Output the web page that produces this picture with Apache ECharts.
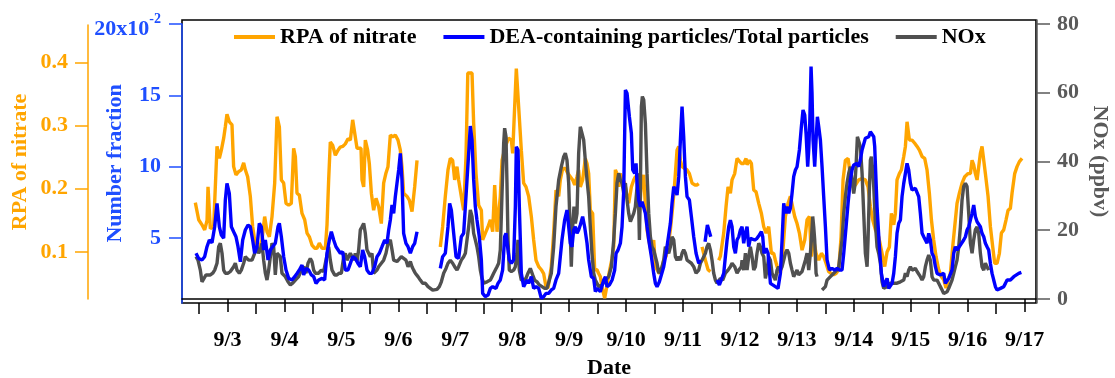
<!DOCTYPE html>
<html>
<head>
<meta charset="utf-8">
<script src="https://cdn.jsdelivr.net/npm/echarts@6/dist/echarts.min.js"></script>
<style>
  html, body { margin: 0; padding: 0; background: #fff; }
  #chart { width: 1115px; height: 378px; }
</style>
</head>
<body>
<div id="chart"></div>
<script>
// Time is expressed as day-of-September (3 = 9/3 00:00).
const dayTicks = [3, 4, 5, 6, 7, 8, 9, 10, 11, 12, 13, 14, 15, 16, 17];
const dayLabels = ['9/3', '9/4', '9/5', '9/6', '9/7', '9/8', '9/9', '9/10', '9/11', '9/12', '9/13', '9/14', '9/15', '9/16', '9/17'];
const halfDayTicks = [2.5, 3.5, 4.5, 5.5, 6.5, 7.5, 8.5, 9.5, 10.5, 11.5, 12.5, 13.5, 14.5, 15.5, 16.5];
const rpaTicks = [0.1, 0.2, 0.3, 0.4];
const fractionTicks = [5, 10, 15, 20];
const noxTicks = [0, 20, 40, 60, 80];

// RPA of nitrate: [day, RPA]
const rpaNitrate = [
  [2.434,0.178],[2.493,0.151],[2.551,0.143],[2.598,0.135],[2.640,0.150],[2.657,0.203],[2.698,0.137],[2.756,0.140],
  [2.815,0.267],[2.856,0.248],[2.891,0.261],[2.932,0.280],[2.961,0.298],[2.990,0.318],[3.031,0.306],[3.078,0.301],
  [3.107,0.235],[3.148,0.222],[3.195,0.227],[3.242,0.230],[3.283,0.241],[3.312,0.230],[3.353,0.219],[3.400,0.188],
  [3.441,0.140],[3.476,0.119],[3.547,0.103],[3.605,0.119],[3.652,0.156],[3.693,0.132],[3.734,0.124],[3.781,0.156],
  [3.828,0.209],[3.869,0.314],[3.910,0.298],[3.945,0.214],[3.986,0.209],[4.027,0.177],[4.074,0.174],[4.120,0.177],
  [4.161,0.264],[4.191,0.251],[4.220,0.193],[4.261,0.190],[4.308,0.161],[4.355,0.151],[4.396,0.130],[4.437,0.124],
  [4.483,0.111],[4.530,0.106],[4.571,0.106],[4.612,0.114],[4.659,0.106],[4.718,0.106],[4.747,0.143],[4.776,0.214],
  [4.805,0.274],[4.846,0.269],[4.893,0.253],[4.940,0.261],[4.981,0.266],[5.022,0.267],[5.069,0.271],[5.116,0.279],
  [5.157,0.277],[5.198,0.309],[5.233,0.310],[5.274,0.264],[5.303,0.264],[5.344,0.264],[5.362,0.214],[5.391,0.203],
  [5.420,0.277],[5.461,0.261],[5.490,0.240],[5.526,0.193],[5.566,0.166],[5.608,0.185],[5.654,0.172],[5.701,0.145],
  [5.742,0.209],[5.783,0.225],[5.818,0.235],[5.859,0.285],[5.900,0.282],[5.947,0.285],[5.994,0.277],[6.035,0.261],
  [6.064,0.235],[6.093,0.193],[6.152,0.188],[6.193,0.182],[6.240,0.164],[6.287,0.203],[6.328,0.245],
  [6.53,null],
  [6.737,0.108],[6.778,0.140],[6.825,0.188],[6.872,0.230],[6.913,0.248],[6.954,0.245],[6.989,0.214],[7.030,0.235],
  [7.059,0.214],[7.106,0.188],[7.147,0.166],[7.188,0.251],[7.220,0.383],[7.294,0.383],[7.323,0.303],[7.364,0.224],
  [7.411,0.174],[7.458,0.166],[7.481,0.119],[7.528,0.130],[7.575,0.140],[7.616,0.151],[7.657,0.132],[7.692,0.206],
  [7.733,0.132],[7.791,0.188],[7.821,0.245],[7.879,0.267],[7.938,0.280],[7.985,0.277],[8.008,0.256],[8.043,0.253],
  [8.072,0.390],[8.113,0.330],[8.160,0.261],[8.201,0.209],[8.242,0.203],[8.289,0.188],[8.336,0.156],[8.377,0.119],
  [8.418,0.087],[8.465,0.077],[8.511,0.072],[8.552,0.066],[8.593,0.045],[8.629,0.043],[8.652,0.045],[8.687,0.077],
  [8.728,0.130],[8.769,0.198],[8.816,0.188],[8.845,0.214],[8.886,0.232],[8.933,0.232],[8.980,0.224],[9.021,0.219],
  [9.062,0.214],[9.097,0.206],[9.138,0.219],[9.167,0.230],[9.196,0.203],[9.237,0.214],[9.284,0.248],[9.314,0.240],
  [9.343,0.224],[9.372,0.166],[9.413,0.161],[9.448,0.072],[9.489,0.072],[9.518,0.066],[9.548,0.061],[9.577,0.045],
  [9.624,0.027],[9.666,0.048],[9.707,0.069],[9.754,0.090],[9.783,0.109],[9.812,0.230],[9.841,0.224],[9.871,0.203],
  [9.900,0.224],[9.929,0.225],[9.976,0.209],[10.017,0.188],[10.046,0.177],[10.093,0.203],[10.134,0.214],[10.163,0.219],
  [10.210,0.219],[10.234,0.161],[10.269,0.209],[10.310,0.222],[10.339,0.172],[10.368,0.135],[10.398,0.119],[10.427,0.119],
  [10.456,0.093],[10.485,0.119],[10.515,0.077],[10.544,0.072],[10.585,0.066],[10.620,0.072],[10.661,0.087],[10.702,0.093],
  [10.737,0.109],[10.778,0.135],[10.819,0.172],[10.854,0.209],[10.895,0.261],[10.925,0.267],[10.954,0.245],[10.983,0.235],
  [11.030,0.232],[11.071,0.230],[11.112,0.224],[11.159,0.209],[11.206,0.206],[11.247,0.206],[11.276,0.208],
  [11.30,null],
  [11.334,0.108],[11.393,0.087],[11.440,0.072],[11.481,0.069],
  [11.55,null],
  [11.627,0.087],[11.656,0.093],[11.715,0.130],[11.756,0.172],[11.791,0.203],[11.832,0.193],[11.861,0.214],[11.908,0.224],
  [11.949,0.248],[11.979,0.251],[12.025,0.240],[12.066,0.240],[12.107,0.248],[12.125,0.238],[12.166,0.245],[12.201,0.240],
  [12.242,0.198],[12.283,0.195],[12.330,0.177],[12.377,0.161],[12.418,0.140],[12.459,0.130],[12.505,0.140],[12.552,0.098],
  [12.593,0.098],[12.622,0.087],[12.669,0.072],[12.710,0.066],[12.751,0.098],[12.798,0.156],[12.845,0.177],[12.886,0.188],
  [12.915,0.188],[12.962,0.156],[13.003,0.145],[13.044,0.130],[13.091,0.103],[13.138,0.119],[13.179,0.151],[13.220,0.156],
  [13.255,0.093],[13.296,0.119],[13.337,0.098],[13.384,0.087],[13.431,0.098],[13.471,0.093],[13.513,0.082],[13.559,0.069],
  [13.606,0.066],[13.647,0.064],[13.688,0.066],[13.735,0.072],[13.776,0.124],[13.811,0.214],[13.852,0.245],[13.899,0.248],
  [13.969,0.203],[14.028,0.206],[14.086,0.214],[14.145,0.216],[14.203,0.214],[14.250,0.203],[14.291,0.172],[14.332,0.151],
  [14.379,0.135],[14.437,0.124],[14.496,0.098],[14.543,0.077],[14.584,0.100],[14.625,0.108],[14.660,0.161],[14.701,0.143],
  [14.730,0.161],[14.759,0.214],[14.800,0.224],[14.836,0.230],[14.877,0.251],[14.906,0.267],[14.935,0.306],[14.976,0.277],
  [15.023,0.277],[15.070,0.272],[15.111,0.267],[15.152,0.261],[15.199,0.251],[15.245,0.248],[15.286,0.230],[15.327,0.193],
  [15.363,0.151],[15.403,0.119],[15.444,0.093],[15.491,0.072],[15.538,0.061],[15.579,0.056],[15.620,0.043],[15.655,0.056],
  [15.696,0.066],[15.737,0.108],[15.772,0.140],[15.813,0.177],[15.854,0.193],[15.901,0.209],[15.948,0.219],[16.007,0.224],
  [16.048,0.224],[16.077,0.245],[16.106,0.238],[16.135,0.224],[16.165,0.214],[16.194,0.235],[16.223,0.256],[16.252,0.267],
  [16.282,0.269],[16.311,0.224],[16.358,0.188],[16.399,0.140],[16.440,0.108],[16.475,0.082],[16.516,0.082],[16.557,0.098],
  [16.592,0.130],[16.633,0.135],[16.674,0.151],[16.709,0.166],[16.750,0.169],[16.779,0.193],[16.826,0.224],[16.867,0.235],
  [16.908,0.243],[16.955,0.248]
];

// DEA-containing particles / total particles, in units of 1e-2: [day, fraction]
const deaFraction = [
  [2.446,3.93],[2.493,3.57],[2.551,3.46],[2.598,3.69],[2.639,4.39],[2.680,4.86],[2.727,4.67],[2.774,5.79],[2.815,7.43],
  [2.856,5.79],[2.891,5.21],[2.932,4.98],[2.961,7.66],[2.990,8.83],[3.031,8.13],[3.067,5.79],[3.107,5.44],[3.148,5.09],
  [3.184,4.39],[3.225,3.34],[3.266,4.86],[3.312,5.56],[3.359,5.91],[3.400,5.79],[3.441,4.86],[3.476,3.93],[3.517,4.39],
  [3.558,6.03],[3.593,5.79],[3.634,4.16],[3.664,4.86],[3.711,3.46],[3.752,4.16],[3.793,4.39],[3.839,4.63],[3.886,5.79],
  [3.910,6.03],[3.945,5.09],[3.986,3.69],[4.027,2.76],[4.074,2.17],[4.132,2.06],[4.179,2.29],[4.220,2.52],[4.261,2.76],
  [4.308,3.11],[4.337,2.41],[4.378,2.87],[4.425,2.76],[4.472,2.41],[4.513,2.29],[4.554,1.82],[4.600,2.06],[4.659,2.17],
  [4.706,2.06],[4.747,3.93],[4.788,4.86],[4.823,5.44],[4.864,4.86],[4.905,4.39],[4.940,4.28],[4.981,3.93],[5.022,4.04],
  [5.069,2.76],[5.116,2.76],[5.157,3.22],[5.198,3.69],[5.244,3.57],[5.291,3.22],[5.332,2.99],[5.373,4.16],[5.408,3.69],
  [5.449,2.76],[5.490,2.52],[5.537,2.52],[5.584,2.99],[5.625,3.69],[5.666,3.93],[5.713,4.39],[5.760,4.86],[5.801,4.63],
  [5.830,5.56],[5.859,6.26],[5.889,7.31],[5.918,6.73],[5.947,7.90],[5.976,8.83],[6.006,9.77],[6.035,10.93],[6.064,9.07],
  [6.093,5.33],[6.134,4.63],[6.170,4.39],[6.211,3.93],[6.251,4.39],[6.287,4.63],[6.328,5.44],
  [6.53,null],
  [6.737,2.87],[6.778,3.69],[6.825,3.93],[6.872,5.79],[6.901,7.43],[6.931,6.96],[6.972,5.33],[7.013,3.69],[7.059,3.57],
  [7.106,5.09],[7.147,5.33],[7.177,7.20],[7.206,9.07],[7.235,10.93],[7.264,12.85],[7.294,11.87],[7.323,9.07],[7.352,7.20],
  [7.381,6.26],[7.422,5.09],[7.458,3.46],[7.481,1.12],[7.528,0.89],[7.575,1.00],[7.616,1.47],[7.657,1.59],[7.692,1.71],
  [7.715,1.47],[7.750,1.82],[7.791,2.06],[7.832,2.76],[7.867,5.09],[7.891,5.33],[7.926,4.16],[7.949,3.46],[7.985,3.22],
  [8.025,3.46],[8.055,7.20],[8.072,11.40],[8.102,11.17],[8.125,7.20],[8.160,2.52],[8.201,1.59],[8.230,1.71],[8.260,2.06],
  [8.289,1.82],[8.336,2.29],[8.377,1.47],[8.418,1.59],[8.465,1.47],[8.511,0.77],[8.552,0.89],[8.593,1.12],[8.640,1.12],
  [8.687,1.36],[8.728,1.47],[8.769,2.06],[8.816,2.52],[8.845,3.69],[8.874,4.86],[8.921,6.26],[8.962,6.96],[8.992,5.79],
  [9.021,4.63],[9.050,4.39],[9.079,5.56],[9.109,5.79],[9.138,5.33],[9.167,5.56],[9.196,5.91],[9.237,6.50],[9.272,5.79],
  [9.314,4.63],[9.343,3.46],[9.390,2.29],[9.431,2.17],[9.460,1.24],[9.489,1.47],[9.518,1.47],[9.548,1.24],[9.577,1.36],
  [9.607,2.06],[9.637,2.29],[9.666,1.59],[9.707,1.71],[9.754,2.06],[9.800,2.76],[9.824,3.93],[9.859,4.16],[9.900,4.63],
  [9.929,5.79],[9.959,8.36],[9.988,15.37],[10.017,15.14],[10.058,13.50],[10.093,12.34],[10.117,9.77],[10.152,9.53],
  [10.175,10.23],[10.193,8.83],[10.222,7.66],[10.251,7.20],[10.281,7.55],[10.310,7.43],[10.339,6.73],[10.368,5.79],
  [10.398,4.86],[10.445,3.69],[10.485,2.52],[10.515,1.82],[10.544,1.59],[10.585,1.94],[10.620,2.06],[10.661,2.99],
  [10.702,3.93],[10.737,3.93],[10.778,6.03],[10.807,7.43],[10.837,8.60],[10.866,8.36],[10.895,8.01],[10.925,9.30],
  [10.954,11.87],[10.983,14.21],[11.012,12.10],[11.042,9.30],[11.071,7.90],[11.112,7.66],[11.147,6.50],[11.188,5.09],
  [11.229,3.93],[11.276,3.22],[11.305,3.46],
  [11.35,null],
  [11.387,4.74],[11.428,5.91],[11.487,5.09],
  [11.55,null],
  [11.598,2.06],[11.639,1.71],[11.674,1.59],[11.715,2.52],[11.744,3.69],[11.774,4.86],[11.803,5.79],[11.832,6.26],
  [11.861,5.79],[11.891,4.39],[11.920,3.93],[11.949,4.86],[11.979,5.09],[12.008,5.56],[12.037,5.79],[12.066,4.63],
  [12.096,5.33],[12.125,5.79],[12.154,4.39],[12.183,4.98],[12.213,5.09],[12.259,4.86],[12.300,4.98],[12.341,5.21],
  [12.377,5.44],[12.400,5.09],[12.423,3.93],[12.459,4.28],[12.494,3.93],[12.535,1.82],[12.576,1.71],[12.622,1.59],
  [12.669,1.47],[12.710,2.52],[12.740,4.86],[12.769,7.43],[12.798,6.73],[12.827,7.20],[12.857,6.73],[12.886,7.08],
  [12.915,8.13],[12.944,9.30],[12.974,9.77],[13.003,10.00],[13.044,11.17],[13.079,12.80],[13.108,13.97],[13.138,13.62],
  [13.161,12.34],[13.190,10.00],[13.208,11.17],[13.226,13.04],[13.249,17.01],[13.266,15.14],[13.284,11.87],[13.313,10.00],
  [13.337,11.87],[13.360,13.50],[13.384,12.80],[13.413,11.87],[13.442,10.00],[13.471,7.90],[13.501,5.79],[13.530,3.46],
  [13.571,2.76],[13.618,2.87],[13.665,2.76],[13.706,2.87],[13.747,2.76],[13.793,2.76],[13.823,3.93],[13.864,5.79],
  [13.899,7.43],[13.940,9.07],[13.969,9.77],[13.998,10.12],[14.028,10.00],[14.057,10.23],[14.086,10.00],[14.115,10.47],
  [14.145,11.17],[14.174,11.17],[14.203,11.99],[14.233,11.87],[14.262,12.10],[14.291,12.45],[14.320,12.57],[14.350,12.10],
  [14.367,11.40],[14.408,7.20],[14.449,4.39],[14.484,2.52],[14.525,1.59],[14.555,1.47],[14.584,2.17],[14.613,1.47],
  [14.642,1.59],[14.672,1.82],[14.701,2.52],[14.730,3.69],[14.759,5.33],[14.789,6.03],[14.818,6.26],[14.847,7.90],
  [14.877,8.83],[14.906,9.53],[14.935,10.23],[14.964,9.77],[14.994,8.83],[15.023,8.36],[15.052,8.25],[15.081,8.48],
  [15.111,8.60],[15.140,7.90],[15.169,6.73],[15.199,5.33],[15.228,5.09],[15.257,4.86],[15.286,4.63],[15.316,5.33],
  [15.345,4.86],[15.374,3.93],[15.403,3.69],[15.433,2.99],[15.462,2.52],[15.491,2.41],[15.520,2.41],[15.550,2.29],
  [15.579,2.52],[15.608,1.82],[15.638,1.94],[15.667,2.17],[15.696,2.29],[15.725,2.76],[15.755,3.93],[15.784,4.39],
  [15.813,4.16],[15.843,4.28],[15.872,4.51],[15.901,4.63],[15.930,4.86],[15.960,5.09],[15.989,5.56],[16.018,5.79],
  [16.048,5.79],[16.077,6.73],[16.106,7.31],[16.135,6.50],[16.165,6.14],[16.194,6.03],[16.223,5.79],[16.252,5.33],
  [16.282,5.09],[16.311,4.63],[16.340,4.39],[16.369,4.16],[16.399,3.22],[16.428,2.52],[16.457,2.06],[16.487,1.59],
  [16.516,1.36],[16.545,1.36],[16.575,1.47],[16.604,1.47],[16.633,1.59],[16.663,1.82],[16.692,2.06],[16.721,2.17],
  [16.750,2.06],[16.779,2.17],[16.809,2.29],[16.838,2.41],[16.897,2.52],[16.943,2.59]
];

// NOx mixing ratio in ppbv: [day, NOx]
const noxPpbv = [
  [2.446,12.3],[2.481,11.3],[2.522,8.4],[2.551,5.0],[2.581,5.5],[2.622,7.0],[2.657,6.5],[2.698,7.0],[2.739,7.5],
  [2.774,8.4],[2.815,10.4],[2.844,15.2],[2.873,16.2],[2.903,13.3],[2.932,8.4],[2.961,7.5],[3.008,7.5],[3.049,8.0],
  [3.078,8.4],[3.107,9.4],[3.137,10.4],[3.166,8.4],[3.207,7.5],[3.242,8.4],[3.283,10.4],[3.312,12.3],[3.342,12.8],
  [3.371,11.3],[3.400,10.9],[3.430,11.3],[3.476,13.3],[3.517,15.2],[3.547,13.3],[3.576,14.3],[3.605,16.2],[3.634,11.3],
  [3.664,7.5],[3.693,5.5],[3.722,8.4],[3.752,12.3],[3.781,16.2],[3.810,15.2],[3.839,7.0],[3.869,13.3],[3.898,12.8],
  [3.927,12.3],[3.956,7.5],[3.986,7.5],[4.015,6.5],[4.062,5.0],[4.103,4.1],[4.144,4.6],[4.191,5.5],[4.249,6.5],
  [4.296,8.4],[4.337,9.4],[4.378,7.5],[4.413,10.4],[4.454,11.8],[4.483,10.9],[4.513,8.4],[4.542,7.5],[4.571,7.5],
  [4.600,7.5],[4.647,8.4],[4.688,8.0],[4.718,8.4],[4.747,12.8],[4.776,15.2],[4.805,11.3],[4.835,8.4],[4.881,7.0],
  [4.922,7.0],[4.963,7.5],[4.999,7.5],[5.040,12.3],[5.069,13.3],[5.098,11.3],[5.127,12.3],[5.157,13.3],[5.186,12.3],
  [5.215,11.3],[5.244,13.3],[5.274,10.9],[5.303,14.3],[5.332,20.1],[5.362,21.0],[5.391,22.0],[5.420,19.1],[5.449,14.3],
  [5.479,14.3],[5.508,12.3],[5.537,13.3],[5.566,7.5],[5.596,7.0],[5.625,8.4],[5.654,9.4],[5.701,10.4],[5.742,11.3],
  [5.783,13.3],[5.818,16.2],[5.859,17.2],[5.889,14.3],[5.918,11.3],[5.947,10.9],[5.976,10.9],[6.006,11.3],[6.052,12.3],
  [6.093,11.8],[6.134,11.3],[6.170,9.4],[6.211,10.9],[6.240,9.4],[6.269,8.4],[6.298,7.5],[6.345,6.5],[6.386,5.5],
  [6.427,4.6],[6.474,4.6],[6.521,3.6],[6.562,3.1],[6.603,2.6],[6.638,2.6],[6.679,2.8],[6.720,3.6],[6.755,5.0],
  [6.796,7.5],[6.837,8.9],[6.872,10.4],[6.913,11.3],[6.954,10.4],[6.989,9.4],[7.030,8.4],[7.059,9.4],[7.106,11.3],
  [7.147,12.3],[7.177,13.3],[7.206,17.2],[7.235,21.0],[7.264,25.9],[7.294,24.0],[7.323,19.1],[7.352,17.2],[7.381,15.2],
  [7.411,12.3],[7.440,8.4],[7.469,6.0],[7.499,4.6],[7.528,4.1],[7.557,5.0],[7.586,5.5],[7.616,5.5],[7.645,6.5],
  [7.674,7.5],[7.703,7.5],[7.733,9.4],[7.762,10.4],[7.791,14.3],[7.821,30.7],[7.850,45.3],[7.867,49.7],[7.891,47.2],
  [7.908,33.7],[7.926,17.2],[7.949,8.4],[7.985,8.0],[8.025,8.4],[8.055,9.4],[8.084,13.3],[8.102,17.2],[8.125,8.4],
  [8.160,5.5],[8.201,5.5],[8.242,6.0],[8.277,7.5],[8.318,8.9],[8.359,7.0],[8.394,5.5],[8.435,5.0],[8.476,4.1],
  [8.523,3.6],[8.570,3.1],[8.611,3.1],[8.640,3.6],[8.687,7.5],[8.728,15.2],[8.769,26.9],[8.816,34.6],[8.863,38.5],
  [8.904,41.4],[8.933,42.4],[8.962,40.4],[8.992,33.7],[9.021,18.1],[9.038,9.4],[9.062,21.0],[9.085,26.9],[9.109,22.0],
  [9.138,24.9],[9.167,42.4],[9.196,50.1],[9.226,49.7],[9.255,46.3],[9.284,40.4],[9.314,34.6],[9.343,29.8],[9.372,21.0],
  [9.401,13.3],[9.431,7.5],[9.460,5.5],[9.489,5.5],[9.518,3.6],[9.548,3.1],[9.577,4.1],[9.637,5.5],[9.695,6.5],
  [9.742,9.4],[9.783,17.2],[9.812,24.9],[9.841,33.7],[9.871,36.6],[9.900,34.6],[9.929,33.7],[9.959,30.7],[9.988,33.7],
  [10.017,28.8],[10.046,24.9],[10.076,22.5],[10.105,22.0],[10.134,24.9],[10.163,26.9],[10.193,32.7],[10.210,36.6],
  [10.234,17.2],[10.251,31.7],[10.269,56.0],[10.286,58.9],[10.310,57.9],[10.339,51.1],[10.368,36.6],[10.398,24.9],
  [10.427,18.1],[10.456,15.2],[10.485,14.3],[10.515,12.3],[10.544,10.4],[10.573,7.5],[10.603,8.4],[10.632,9.4],
  [10.661,11.3],[10.690,15.2],[10.720,15.2],[10.749,13.3],[10.778,15.2],[10.807,18.1],[10.837,17.2],[10.866,12.3],
  [10.895,11.3],[10.925,12.3],[10.954,11.3],[10.983,13.3],[11.012,14.3],[11.042,13.3],[11.071,11.3],[11.100,10.9],
  [11.147,10.4],[11.188,9.4],[11.229,7.5],[11.276,8.4],[11.305,10.4],[11.334,11.3],[11.364,11.3],[11.393,13.3],
  [11.422,15.2],[11.451,16.2],[11.481,14.3],[11.510,11.3],[11.539,7.5],[11.569,5.5],[11.598,4.6],[11.627,5.0],
  [11.656,6.0],[11.697,5.5],[11.744,7.5],[11.791,8.4],[11.832,9.4],[11.861,10.4],[11.908,9.4],[11.949,7.5],
  [11.979,8.4],[12.025,9.4],[12.037,11.3],[12.066,8.4],[12.096,13.3],[12.125,8.4],[12.154,12.3],[12.183,15.2],
  [12.213,12.3],[12.242,8.4],[12.271,9.4],[12.300,13.3],[12.330,16.2],[12.359,15.2],[12.388,13.3],[12.418,12.3],
  [12.447,6.0],[12.476,8.4],[12.505,12.3],[12.535,11.3],[12.564,7.5],[12.593,6.5],[12.622,5.5],[12.652,8.4],
  [12.681,9.4],[12.710,8.4],[12.740,9.4],[12.769,11.3],[12.798,13.3],[12.827,14.3],[12.857,13.3],[12.886,10.4],
  [12.915,8.4],[12.944,6.5],[12.974,7.5],[13.003,8.4],[13.032,7.0],[13.062,7.5],[13.091,8.0],[13.120,8.4],
  [13.149,11.3],[13.179,13.3],[13.208,8.4],[13.237,13.3],[13.255,17.2],[13.278,24.0],[13.296,21.0],[13.313,17.2],
  [13.337,7.5],[13.354,6.5],
  [13.40,null],
  [13.442,2.6],[13.471,3.1],[13.501,3.6],[13.530,5.5],[13.559,5.0],[13.589,6.5],[13.618,7.0],[13.647,7.5],
  [13.676,7.5],[13.706,8.4],[13.735,9.4],[13.764,13.3],[13.793,17.2],[13.823,24.9],[13.852,29.8],[13.881,33.7],
  [13.911,36.6],[13.940,38.5],[13.969,34.6],[13.998,30.7],[14.016,32.7],[14.039,38.5],[14.063,47.2],[14.086,47.7],
  [14.115,44.3],[14.145,36.6],[14.174,24.9],[14.203,13.3],[14.233,9.4],[14.250,17.2],[14.273,31.7],[14.291,40.4],
  [14.309,41.4],[14.332,37.5],[14.350,32.7],[14.379,22.0],[14.408,15.2],[14.437,13.3],[14.467,10.4],[14.496,5.0],
  [14.525,3.1],[14.555,2.6],[14.584,3.6],[14.613,4.1],[14.642,4.6],[14.672,5.0],[14.701,4.6],[14.730,5.0],
  [14.759,4.6],[14.789,5.0],[14.818,5.0],[14.847,4.6],[14.877,5.5],[14.906,7.5],[14.935,6.5],[14.964,8.4],
  [14.994,9.4],[15.023,8.4],[15.052,8.4],[15.081,8.9],[15.111,8.0],[15.140,7.5],[15.169,6.5],[15.199,5.5],
  [15.228,6.5],[15.257,9.4],[15.286,11.3],[15.316,12.8],[15.345,11.3],[15.374,6.5],[15.403,5.5],[15.433,6.0],
  [15.462,5.5],[15.491,4.6],[15.520,3.6],[15.550,2.6],[15.579,1.6],[15.608,1.6],[15.638,2.1],[15.667,3.1],
  [15.696,3.6],[15.725,5.5],[15.755,7.5],[15.784,9.4],[15.813,11.3],[15.843,15.2],[15.872,21.0],[15.901,28.8],
  [15.930,32.7],[15.960,33.7],[15.989,32.7],[16.018,24.9],[16.048,16.2],[16.077,13.3],[16.106,17.2],[16.135,20.1],
  [16.165,21.0],[16.194,19.1],[16.223,13.3],[16.252,9.4],[16.282,8.4],[16.311,10.4],[16.340,9.4],[16.369,8.4]
];

const FONT = '"Liberation Serif", "Times New Roman", "DejaVu Serif", serif';
const ORANGE = '#FFA500';
const BLUE_LINE = '#0000FF';
const BLUE_AXIS = '#1F4FFF';
const GRAY_LINE = '#505050';
const GRAY_AXIS = '#5A5A5A';
const LINE_W = 3.4;

const textBase = { fontFamily: FONT, fontWeight: 'bold', fontSize: 22 };

const chart = echarts.init(document.getElementById('chart'), null, { renderer: 'canvas' });

const gridBox = { left: 182, right: 79, outerBoundsMode: 'none', containLabel: false };

const hiddenX = (gridIndex) => ({
  gridIndex, type: 'value', min: 2.2, max: 17.2, show: false
});

chart.setOption({
  animation: false,
  backgroundColor: '#fff',
  grid: [
    Object.assign({ top: 20, bottom: 75, show: true, borderColor: '#000', borderWidth: 1.6, backgroundColor: 'transparent' }, gridBox),
    Object.assign({ top: 24, bottom: 75 }, gridBox),
    Object.assign({ top: 25, bottom: 79 }, gridBox)
  ],
  legend: {
    left: 229, top: 21,
    icon: 'rect',
    itemWidth: 41, itemHeight: 4, itemGap: 27,
    textStyle: Object.assign({ color: '#000' }, textBase),
    data: ['RPA of nitrate', 'DEA-containing particles/Total particles', 'NOx']
  },
  xAxis: [
    {
      gridIndex: 0, type: 'value', min: 2.2, max: 17.2, position: 'bottom',
      name: 'Date', nameLocation: 'middle', nameGap: 54, nameMoveOverlap: false,
      nameTextStyle: Object.assign({ color: '#000' }, textBase),
      axisLine: { lineStyle: { color: '#000', width: 1.6 } },
      axisTick: { show: true, inside: false, length: 13, customValues: dayTicks, lineStyle: { color: '#000', width: 1.5 } },
      axisLabel: {
        customValues: dayTicks, margin: 26, color: '#000',
        fontFamily: FONT, fontWeight: 'bold', fontSize: 22,
        formatter: (v) => dayLabels[dayTicks.indexOf(Math.round(v))]
      },
      splitLine: { show: false }
    },
    {
      gridIndex: 0, type: 'value', min: 2.2, max: 17.2, position: 'bottom',
      axisLine: { show: false },
      axisTick: { show: true, inside: false, length: 11, customValues: halfDayTicks, lineStyle: { color: '#000', width: 1.5 } },
      axisLabel: { show: false },
      splitLine: { show: false }
    },
    hiddenX(1),
    hiddenX(2)
  ],
  yAxis: [
    {
      gridIndex: 0, type: 'value', position: 'right', offset: 1,
      min: -1.164, max: 81.16,
      name: 'NOx (ppbv)', nameLocation: 'middle', nameRotate: -90, nameGap: 52, nameMoveOverlap: false,
      nameTextStyle: Object.assign({ color: GRAY_AXIS }, textBase),
      axisLine: { show: true, lineStyle: { color: GRAY_AXIS, width: 1.5 } },
      axisTick: { show: true, length: 13, customValues: noxTicks, lineStyle: { color: GRAY_AXIS, width: 1.5 } },
      axisLabel: { customValues: noxTicks, margin: 20, color: GRAY_AXIS, fontFamily: FONT, fontWeight: 'bold', fontSize: 22 },
      splitLine: { show: false }
    },
    {
      gridIndex: 1, type: 'value', position: 'left',
      min: 0.445, max: 20,
      name: 'Number fraction', nameLocation: 'middle', nameRotate: 90, nameGap: 56, nameMoveOverlap: false,
      nameTextStyle: Object.assign({ color: BLUE_AXIS }, textBase),
      axisLine: { show: true, lineStyle: { color: BLUE_AXIS, width: 1.5 } },
      axisTick: { show: true, length: 13, customValues: fractionTicks, lineStyle: { color: BLUE_AXIS, width: 1.5 } },
      axisLabel: {
        customValues: fractionTicks, margin: 21, color: BLUE_AXIS,
        fontFamily: FONT, fontWeight: 'bold', fontSize: 22,
        formatter: (v) => (v === 20 ? '{m|20x10}{e|-2}' : String(v)),
        rich: {
          m: { fontFamily: FONT, fontWeight: 'bold', fontSize: 22, color: BLUE_AXIS, padding: [10, 0, 0, 0] },
          e: { fontFamily: FONT, fontWeight: 'bold', fontSize: 14, color: BLUE_AXIS, verticalAlign: 'top', padding: [4, 0, 0, 0] }
        }
      },
      splitLine: { show: false }
    },
    {
      gridIndex: 2, type: 'value', position: 'left', offset: 94,
      min: 0.0257, max: 0.459,
      name: 'RPA of nitrate', nameLocation: 'middle', nameRotate: 90, nameGap: 57, nameMoveOverlap: false,
      nameTextStyle: Object.assign({ color: ORANGE }, textBase),
      axisLine: { show: true, lineStyle: { color: ORANGE, width: 1.5 } },
      axisTick: { show: true, length: 13, customValues: rpaTicks, lineStyle: { color: ORANGE, width: 1.5 } },
      axisLabel: {
        customValues: rpaTicks, margin: 20, color: ORANGE,
        fontFamily: FONT, fontWeight: 'bold', fontSize: 22,
        formatter: (v) => v.toFixed(1)
      },
      splitLine: { show: false }
    }
  ],
  series: [
    {
      name: 'RPA of nitrate', type: 'line', xAxisIndex: 3, yAxisIndex: 2,
      data: rpaNitrate, symbol: 'none', connectNulls: false, clip: false,
      lineStyle: { color: ORANGE, width: LINE_W }, itemStyle: { color: ORANGE }, z: 2
    },
    {
      name: 'NOx', type: 'line', xAxisIndex: 0, yAxisIndex: 0,
      data: noxPpbv, symbol: 'none', connectNulls: false,
      lineStyle: { color: GRAY_LINE, width: LINE_W }, itemStyle: { color: GRAY_LINE }, z: 3
    },
    {
      name: 'DEA-containing particles/Total particles', type: 'line', xAxisIndex: 2, yAxisIndex: 1,
      data: deaFraction, symbol: 'none', connectNulls: false,
      lineStyle: { color: BLUE_LINE, width: LINE_W }, itemStyle: { color: BLUE_LINE }, z: 4
    }
  ]
});
</script>
</body>
</html>
